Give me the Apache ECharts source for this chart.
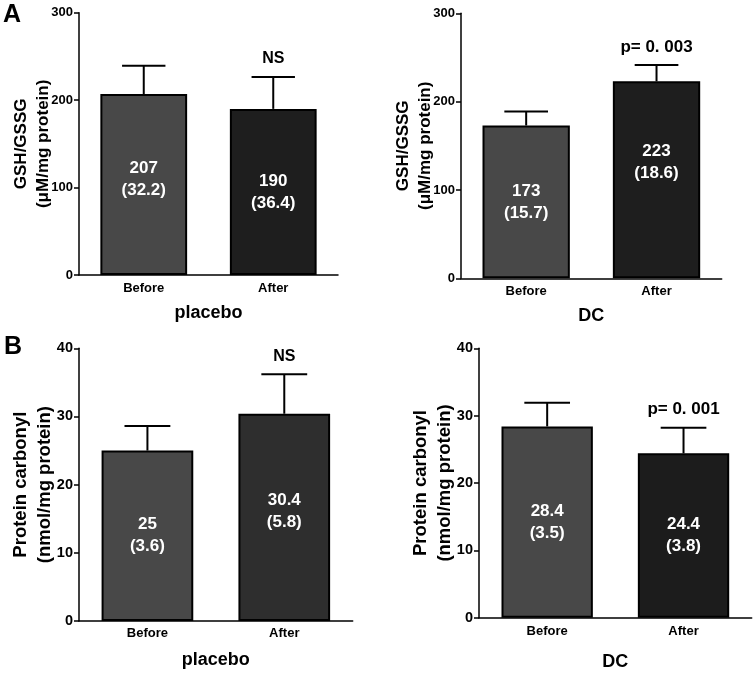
<!DOCTYPE html>
<html><head><meta charset="utf-8">
<script src="https://cdn.jsdelivr.net/npm/echarts@6/dist/echarts.min.js"></script>
<style>html,body{margin:0;padding:0;background:#fff}#c{width:756px;height:673px}</style>
</head><body><div id="c"></div>
<script>
// ---- data ----
const categories = ['Before', 'After'];
const gshPlaceboMean = [207, 190];
const gshPlaceboSD = [32.2, 36.4];
const gshDCMean = [173, 223];
const gshDCSD = [15.7, 18.6];
const pcPlaceboMean = [25, 30.4];
const pcPlaceboSD = [3.6, 5.8];
const pcDCMean = [28.4, 24.4];
const pcDCSD = [3.5, 3.8];
const gshPlaceboNote = ['', 'NS'];
const gshDCNote = ['', 'p= 0. 003'];
const pcPlaceboNote = ['', 'NS'];
const pcDCNote = ['', 'p= 0. 001'];
const gshTicks = [0, 100, 200, 300];
const pcTicks = [0, 10, 20, 30, 40];
const gshName = 'GSH/GSSG\n(\u03bcM/mg protein)';
const pcName = 'Protein carbonyl\n(nmol/mg protein)';

// ---- styling / layout ----
const FONT = '"Liberation Sans", Arial, Helvetica, sans-serif';
const panels = [
  {grid:{left:79, top:12.7, width:259, height:262.3}, means:gshPlaceboMean, sds:gshPlaceboSD, notes:gshPlaceboNote, ticks:gshTicks, yName:gshName, xName:'placebo',
   colors:['#484848','#1e1e1e'], tickFont:13, yNameFont:17, yNameGap:25, yNameLH:22, xNameGap:29, xLabelMargin:7, labelOffsets:[[0,-5],[0,0]]},
  {grid:{left:461, top:13.3, width:260.7, height:265}, means:gshDCMean, sds:gshDCSD, notes:gshDCNote, ticks:gshTicks, yName:gshName, xName:'DC',
   colors:['#484848','#1e1e1e'], tickFont:13, yNameFont:17, yNameGap:25, yNameLH:22, xNameGap:29, xLabelMargin:7, labelOffsets:[[0,0],[0,-17]]},
  {grid:{left:79, top:348.3, width:273.7, height:272.7}, means:pcPlaceboMean, sds:pcPlaceboSD, notes:pcPlaceboNote, ticks:pcTicks, yName:pcName, xName:'placebo',
   colors:['#484848','#2e2e2e'], tickFont:14.5, yNameFont:18.5, yNameGap:22, yNameLH:24, xNameGap:30, xLabelMargin:6, labelOffsets:[[0,0],[0,-6]]},
  {grid:{left:479, top:348.3, width:272.7, height:269.4}, means:pcDCMean, sds:pcDCSD, notes:pcDCNote, ticks:pcTicks, yName:pcName, xName:'DC',
   colors:['#484848','#1c1c1c'], tickFont:14.5, yNameFont:18.5, yNameGap:22, yNameLH:24, xNameGap:35, xLabelMargin:7, labelOffsets:[[0,0],[0,0]]}
];

function errRender(notes){
  return function(params, api){
    const i = api.value(0), m = api.value(1), s = api.value(2);
    const base = api.coord([i, m]);
    const top = api.coord([i, m + s]);
    const hw = api.size([1, 0])[0] * 0.67 * 0.25;
    const children = [
      {type:'line', shape:{x1:base[0], y1:base[1], x2:top[0], y2:top[1]}, style:{stroke:'#000', lineWidth:2}},
      {type:'line', shape:{x1:top[0]-hw, y1:top[1], x2:top[0]+hw, y2:top[1]}, style:{stroke:'#000', lineWidth:2}}
    ];
    const note = notes[params.dataIndex];
    if (note) {
      children.push({type:'text', x:top[0], y:top[1]-18, style:{text:note, fill:'#000',
        fontSize: note === 'NS' ? 16 : 17, fontWeight:'bold', fontFamily:FONT, align:'center', verticalAlign:'middle'}});
    }
    return {type:'group', children};
  };
}

const option = {
  animation:false,
  backgroundColor:'#fff',
  textStyle:{fontFamily:FONT, fontWeight:'bold', color:'#000'},
  grid: panels.map(p => Object.assign({containLabel:false, outerBoundsMode:'none'}, p.grid)),
  xAxis: panels.map((p, k) => ({
    type:'category', gridIndex:k, data:categories,
    name:p.xName, nameLocation:'middle', nameGap:p.xNameGap,
    nameTextStyle:{fontSize:18, fontWeight:'bold', color:'#000', fontFamily:FONT},
    axisLine:{lineStyle:{color:'#000', width:1.5}},
    axisTick:{alignWithLabel:true, length:4, lineStyle:{color:'#000', width:1.5}},
    axisLabel:{fontSize:13, fontWeight:'bold', color:'#000', margin:p.xLabelMargin, fontFamily:FONT},
    splitLine:{show:false}
  })),
  yAxis: panels.map((p, k) => ({
    type:'value', gridIndex:k,
    min:p.ticks[0], max:p.ticks[p.ticks.length-1], interval:p.ticks[1]-p.ticks[0],
    name:p.yName, nameLocation:'middle', nameRotate:90, nameGap:p.yNameGap, nameMoveOverlap:false,
    nameTextStyle:{fontSize:p.yNameFont, fontWeight:'bold', color:'#000', lineHeight:p.yNameLH, fontFamily:FONT},
    axisLine:{show:true, lineStyle:{color:'#000', width:1.5}},
    axisTick:{show:true, length:5, lineStyle:{color:'#000', width:1.5}},
    axisLabel:{fontSize:p.tickFont, fontWeight:'bold', color:'#000', margin:6, fontFamily:FONT},
    splitLine:{show:false}
  })),
  series: panels.flatMap((p, k) => [
    {
      type:'bar', xAxisIndex:k, yAxisIndex:k, barWidth:'67%',
      data: p.means.map((m, i) => ({value:m, itemStyle:{color:p.colors[i]}, label:{offset:p.labelOffsets[i]}})),
      itemStyle:{borderColor:'#000', borderWidth:2},
      label:{show:true, position:'inside', color:'#fff', fontSize:17, fontWeight:'bold', lineHeight:22, fontFamily:FONT,
        formatter: prm => p.means[prm.dataIndex] + '\n(' + p.sds[prm.dataIndex] + ')'}
    },
    {
      type:'custom', xAxisIndex:k, yAxisIndex:k, z:5,
      data: categories.map((c, i) => [i, p.means[i], p.sds[i]]),
      renderItem: errRender(p.notes)
    }
  ]),
  graphic: [
    {type:'text', left:3, top:3, style:{text:'A', fontSize:25, fontWeight:'bold', fontFamily:FONT, fill:'#000'}},
    {type:'text', left:4, top:335, style:{text:'B', fontSize:25, fontWeight:'bold', fontFamily:FONT, fill:'#000'}}
  ]
};
const chart = echarts.init(document.getElementById('c'), null, {renderer:'canvas'});
chart.setOption(option);
</script>
</body></html>
